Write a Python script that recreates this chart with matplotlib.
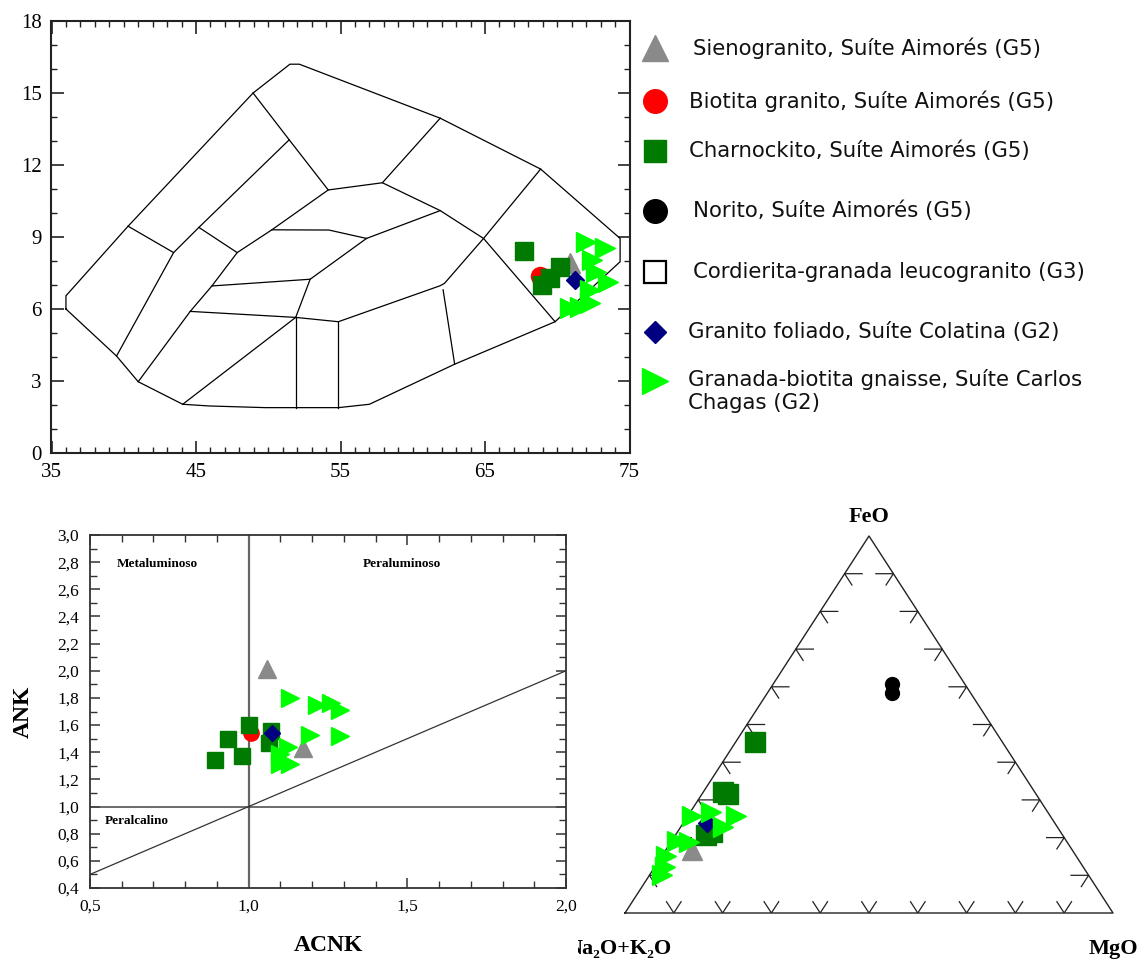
import matplotlib
matplotlib.use('Agg')
import matplotlib.pyplot as plt
from matplotlib.ticker import FixedLocator, MultipleLocator
from matplotlib.transforms import Bbox

SERIF = ['Liberation Serif', 'DejaVu Serif']

# ---------------- legend ----------------
legend_labels = ['Sienogranito, Suíte Aimorés (G5)',
                 'Biotita granito, Suíte Aimorés (G5)',
                 'Charnockito, Suíte Aimorés (G5)',
                 'Norito, Suíte Aimorés (G5)',
                 'Cordierita-granada leucogranito (G3)',
                 'Granito foliado, Suíte Colatina (G2)',
                 'Granada-biotita gnaisse, Suíte Carlos\nChagas (G2)']

# ---------------- TAS (Middlemost) data ----------------
tas_sieno_x, tas_sieno_y = [70.9], [7.9]
tas_biot_x, tas_biot_y = [68.8], [7.38]
tas_charn_x = [67.7, 70.2, 68.95, 69.5]
tas_charn_y = [8.4, 7.75, 7.0, 7.3]
tas_folia_x, tas_folia_y = [71.2], [7.2]
tas_gnai_x = [72.0, 73.3, 72.4, 72.7, 73.5, 72.3, 70.9, 72.3, 71.6]
tas_gnai_y = [8.8, 8.53, 8.04, 7.55, 7.14, 6.8, 6.03, 6.24, 6.1]

# Middlemost plutonic field boundaries (SiO2, Na2O+K2O)
tas_outline = [(36.0, 6.0), (36.0, 6.55), (40.3, 9.45), (48.95, 15.0), (51.5, 16.2),
               (52.15, 16.2), (61.9, 13.95), (68.85, 11.83), (74.35, 8.94), (74.35, 7.97),
               (69.85, 5.47), (62.9, 3.7), (57.0, 2.03), (54.85, 1.89), (49.8, 1.89),
               (45.9, 1.96), (44.08, 2.03), (41.0, 2.97), (39.5, 4.04), (36.0, 6.0)]
tas_lines = [
    [(40.3, 9.45), (43.45, 8.35), (39.5, 4.04)],
    [(43.45, 8.35), (45.2, 9.4), (51.45, 13.05), (48.95, 15.0)],
    [(51.45, 13.05), (54.15, 10.96), (57.9, 11.26), (61.9, 13.95)],
    [(45.2, 9.4), (47.85, 8.35), (50.25, 9.3), (54.15, 10.96)],
    [(41.0, 2.97), (44.6, 5.9), (46.1, 6.96), (47.85, 8.35)],
    [(50.25, 9.3), (54.2, 9.29), (56.8, 8.94)],
    [(46.1, 6.96), (52.9, 7.24), (56.8, 8.94)],
    [(52.9, 7.24), (51.9, 5.65)],
    [(44.6, 5.9), (51.9, 5.65), (54.85, 5.47), (61.9, 6.97), (62.2, 7.07),
     (64.9, 8.94), (68.85, 11.83)],
    [(44.08, 2.03), (51.9, 5.65)],
    [(51.9, 5.65), (51.9, 1.89)],
    [(54.85, 5.47), (54.85, 1.89)],
    [(57.9, 11.26), (61.9, 10.1), (64.9, 8.94), (69.85, 5.47)],
    [(56.8, 8.94), (61.9, 10.1)],
    [(62.1, 6.8), (62.9, 3.7)],
]
tas_xticks = [35, 45, 55, 65, 75]
tas_yticks = [0, 3, 6, 9, 12, 15, 18]

# ---------------- Shand (A/CNK vs A/NK) data ----------------
sh_sieno_x, sh_sieno_y = [1.058, 1.17], [2.01, 1.43]
sh_biot_x, sh_biot_y = [1.007], [1.54]
sh_charn_x = [1.0, 0.936, 0.894, 0.98, 1.07, 1.065]
sh_charn_y = [1.60, 1.50, 1.34, 1.37, 1.555, 1.47]
sh_folia_x, sh_folia_y = [1.073], [1.54]
sh_gnai_x = [1.13, 1.214, 1.258, 1.287, 1.194, 1.287, 1.124, 1.10, 1.10, 1.13]
sh_gnai_y = [1.80, 1.75, 1.76, 1.71, 1.53, 1.52, 1.44, 1.39, 1.31, 1.31]
sh_xticks = [0.5, 1.0, 1.5, 2.0]
sh_xlabels = ['0,5', '1,0', '1,5', '2,0']
sh_yticks = [0.4, 0.6, 0.8, 1.0, 1.2, 1.4, 1.6, 1.8, 2.0, 2.2, 2.4, 2.6, 2.8, 3.0]
sh_ylabels = ['0,4', '0,6', '0,8', '1,0', '1,2', '1,4', '1,6', '1,8', '2,0',
              '2,2', '2,4', '2,6', '2,8', '3,0']

# ---------------- AFM data (A = Na2O+K2O, F = FeO, M = MgO, %) ----------------
afm_sieno = ([77.9], [16.7], [5.4])
afm_biot = ([64.4], [31.8], [3.8])
afm_charn = ([50.6, 63.9, 63.2, 73.0, 71.3],
             [45.4, 32.0, 31.5, 20.7, 21.6],
             [4.0, 4.1, 5.3, 6.3, 7.1])
afm_norito = ([14.9, 16.1], [60.8, 58.4], [24.3, 25.5])
afm_folia = ([71.2], [23.8], [5.0])
afm_gnai = ([73.3, 68.9, 64.4, 68.5, 79.7, 77.5, 84.0, 85.7, 87.4],
            [25.8, 26.9, 25.6, 22.9, 19.1, 18.9, 15.0, 12.3, 10.1],
            [0.9, 4.2, 10.0, 8.6, 1.2, 3.6, 1.0, 2.0, 2.5])

C_GRAY, C_RED, C_GREEN = '#8a8a8a', '#ff0000', '#007a00'
C_NAVY, C_LIME = '#000080', '#00ff00'


def tern(a, f, m):
    xs, ys = [], []
    for ai, fi, mi in zip(a, f, m):
        s = ai + fi + mi
        xs.append((mi + fi / 2) / s)
        ys.append(fi / s)
    return xs, ys


fig = plt.figure(figsize=(11.45, 9.6), dpi=100)
W, H = 1145, 960


def px_axes(left, top, right, bottom):
    return fig.add_axes([left / W, 1 - bottom / H, (right - left) / W, (bottom - top) / H])


# ---------- TAS ----------
ax = px_axes(51.5, 21, 629.5, 453)
xs, ys = zip(*tas_outline)
ax.plot(xs, ys, color='black', lw=0.9)
for seg in tas_lines:
    xs, ys = zip(*seg)
    ax.plot(xs, ys, color='black', lw=0.9)
ax.plot(tas_sieno_x, tas_sieno_y, '^', color=C_GRAY, ms=14, ls='none')
ax.plot(tas_biot_x, tas_biot_y, 'o', color=C_RED, ms=13, ls='none')
ax.plot(tas_charn_x, tas_charn_y, 's', color=C_GREEN, ms=13, ls='none')
ax.plot(tas_folia_x, tas_folia_y, 'D', color=C_NAVY, ms=9, ls='none')
ax.plot(tas_gnai_x, tas_gnai_y, '>', color=C_LIME, ms=15, ls='none')
ax.set_xlim(35, 75)
ax.set_ylim(0, 18)
ax.xaxis.set_major_locator(FixedLocator(tas_xticks))
ax.yaxis.set_major_locator(FixedLocator(tas_yticks))
ax.xaxis.set_minor_locator(MultipleLocator(1))
ax.yaxis.set_minor_locator(MultipleLocator(1))
ax.tick_params(which='both', direction='in', top=True, right=True, color='#222')
ax.tick_params(which='major', length=9, width=1.2, labelsize=15, pad=7)
ax.tick_params(which='minor', length=4.5, width=1.0)
for lab in ax.get_xticklabels() + ax.get_yticklabels():
    lab.set_family(SERIF)
for sp in ax.spines.values():
    sp.set_linewidth(1.5)
    sp.set_color('#222')

# ---------- legend ----------
lg = fig.add_axes([0, 0, 1, 1])
lg.set_xlim(0, W)
lg.set_ylim(H, 0)
lg.axis('off')
rows = [48, 101, 151, 211, 272, 332, 381]
text_x = [693, 689, 689, 693, 693, 688, 688]
styles = [dict(marker='^', color=C_GRAY, ms=19),
          dict(marker='o', color=C_RED, ms=17),
          dict(marker='s', color=C_GREEN, ms=16),
          dict(marker='o', color='black', ms=17),
          dict(marker='s', mfc='white', mec='black', mew=1.6, ms=16),
          dict(marker='D', color=C_NAVY, ms=11),
          dict(marker='>', color=C_LIME, ms=19)]
for yy, tx, st, lab in zip(rows, text_x, styles, legend_labels):
    lg.plot([655], [yy], ls='none', **st)
    ty = yy + 10 if '\n' in lab else yy
    lg.text(tx, ty, lab, fontsize=15.3, family='DejaVu Sans', va='center',
            ha='left', color='#111', linespacing=1.2)

# ---------- Shand ----------
ax2 = px_axes(90, 535, 566, 888)
ax2.plot([1.0, 1.0], [0.4, 3.0], color='#666', lw=1.6)
ax2.plot([0.5, 2.0], [1.0, 1.0], color='#444', lw=1.1)
ax2.plot([0.5, 2.0], [0.5, 2.0], color='#333', lw=0.9)
ax2.plot(sh_sieno_x, sh_sieno_y, '^', color=C_GRAY, ms=13, ls='none')
ax2.plot(sh_biot_x, sh_biot_y, 'o', color=C_RED, ms=11, ls='none')
ax2.plot(sh_charn_x, sh_charn_y, 's', color=C_GREEN, ms=11.5, ls='none')
ax2.plot(sh_folia_x, sh_folia_y, 'D', color=C_NAVY, ms=8, ls='none')
ax2.plot(sh_gnai_x, sh_gnai_y, '>', color=C_LIME, ms=13, ls='none')
ax2.set_xlim(0.5, 2.0)
ax2.set_ylim(0.4, 3.0)
ax2.set_xticks(sh_xticks, sh_xlabels)
ax2.set_yticks(sh_yticks, sh_ylabels)
ax2.xaxis.set_minor_locator(MultipleLocator(0.1))
ax2.yaxis.set_minor_locator(MultipleLocator(0.1))
ax2.tick_params(which='both', direction='in', top=True, right=True, color='#333')
ax2.tick_params(which='major', length=7, width=1.1, labelsize=12.5, pad=8)
ax2.tick_params(which='minor', length=5, width=1.0)
for lab in ax2.get_xticklabels() + ax2.get_yticklabels():
    lab.set_family(SERIF)
for sp in ax2.spines.values():
    sp.set_linewidth(1.3)
    sp.set_color('#333')
ax2.set_xlabel('ACNK', fontsize=17, fontweight='bold', family=SERIF, labelpad=14)
ax2.set_ylabel('ANK', fontsize=17, fontweight='bold', family=SERIF, labelpad=17)
ax2.text(0.585, 2.79, 'Metaluminoso', fontsize=9.5, fontweight='bold', family=SERIF,
         va='center')
ax2.text(1.36, 2.79, 'Peraluminoso', fontsize=9.5, fontweight='bold', family=SERIF,
         va='center')
ax2.text(0.545, 0.89, 'Peralcalino', fontsize=9.5, fontweight='bold', family=SERIF,
         va='center')

# ---------- AFM ternary ----------
ax3 = px_axes(625, 536, 1113, 913)
ax3.set_xlim(0, 1)
ax3.set_ylim(0, 1)
ax3.axis('off')
ax3.plot([0, 1, 0.5, 0], [0, 0, 1, 0], color='#222', lw=1.0, clip_on=False)
# tick marks: at each tenth, two short strokes parallel to the other two sides
tk = 0.03
for i in range(1, 10):
    t = i / 10
    # bottom edge
    ax3.plot([t - tk * 0.5, t, t + tk * 0.5], [tk, 0, tk], color='#222', lw=0.9)
    # left edge
    lx, ly = t / 2, t
    ax3.plot([lx + tk * 1.2, lx, lx + tk * 0.5], [ly, ly, ly - tk], color='#222', lw=0.9)
    # right edge
    rx, ry = 1 - t / 2, t
    ax3.plot([rx - tk * 1.2, rx, rx - tk * 0.5], [ry, ry, ry - tk], color='#222', lw=0.9)

x, y = tern(*afm_biot)
ax3.plot(x, y, 'o', color=C_RED, ms=10, ls='none')
x, y = tern(*afm_charn)
ax3.plot(x, y, 's', color=C_GREEN, ms=14, ls='none')
x, y = tern(*afm_norito)
ax3.plot(x, y, 'o', color='black', ms=10, ls='none')
x, y = tern(*afm_sieno)
ax3.plot(x, y, '^', color=C_GRAY, ms=14, ls='none')
x, y = tern(*afm_folia)
ax3.plot(x, y, 'D', color=C_NAVY, ms=9, ls='none')
x, y = tern(*afm_gnai)
ax3.plot(x, y, '>', color=C_LIME, ms=14, ls='none')

ax3.text(0.5, 1.025, 'FeO', ha='center', va='bottom', fontsize=16, fontweight='bold',
         family=SERIF)
t_alk = ax3.text(-0.012, -0.07, 'Na₂O+K₂O', ha='center', va='top', fontsize=16,
                 fontweight='bold', family=SERIF)
# the left panel covers the first letter in the original figure
t_alk.set_clip_box(Bbox.from_extents(578, 0, W, H))
t_alk.set_clip_on(True)
ax3.text(1.0, -0.07, 'MgO', ha='center', va='top', fontsize=16, fontweight='bold',
         family=SERIF)

fig.savefig('out.png', dpi=100)
